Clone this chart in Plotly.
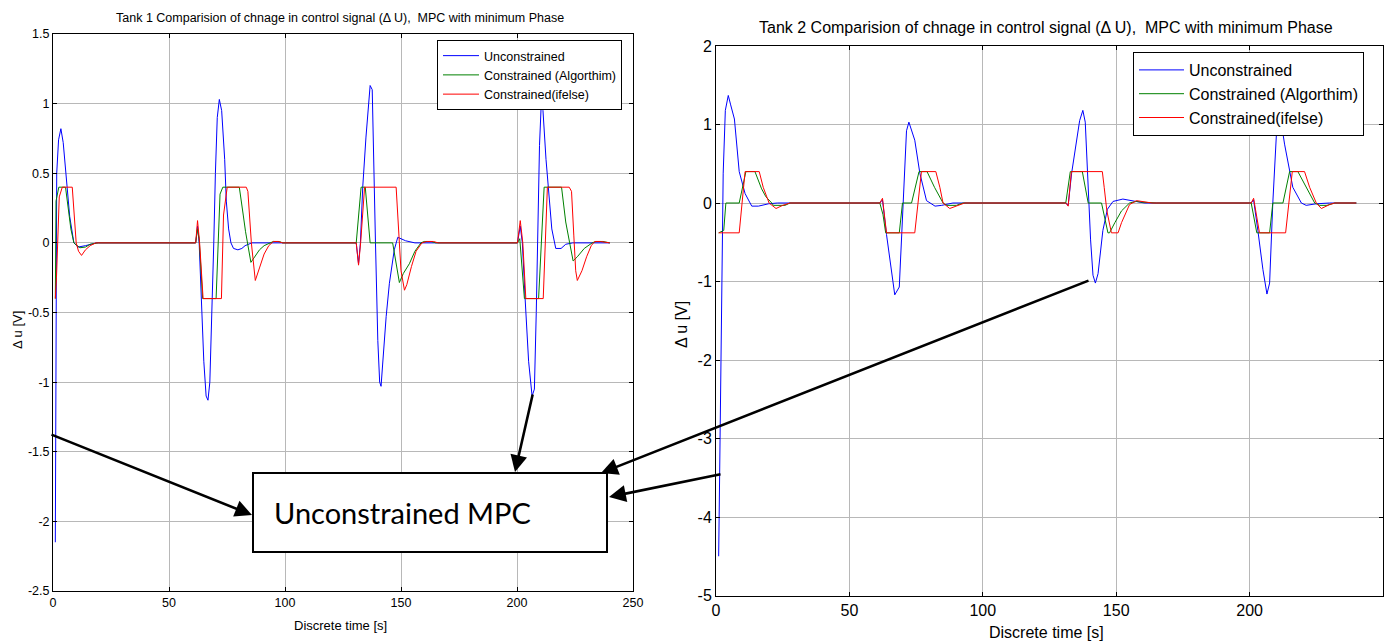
import plotly.graph_objects as go

# ---------------- Tank 1 data (breakpoints) ----------------
t1_unc = [1, 1.6, 2.4, 3.4, 4.4, 5.8, 7.2, 9, 10.8, 14, 18.7,
          61.5, 62.3, 63, 64, 65, 66, 66.8, 67.6, 68.6, 69.3, 70, 70.8, 71.7, 72.7, 74, 74.7, 75.7, 76.7, 77.8, 79.7, 81.4, 82.8, 85.7,
          130.7, 131.7, 132.5, 133.5, 134.9, 136.7, 137.6, 139.0, 140.0, 140.8, 141.4, 142.1, 143.6, 145, 147.1, 148.6, 150, 152, 156,
          200.2, 201.4, 202.3, 203.5, 205, 206.5, 207.5, 208.3, 209, 209.7, 210.5, 211.2, 212.5, 213.6, 215, 216.7, 219, 221, 224, 240]
u1_unc = [-2.15, 0.5, 0.74, 0.82, 0.72, 0.43, 0.19, 0, -0.03, -0.02, 0,
          0, 0.12, 0, -0.45, -0.85, -1.1, -1.13, -1.0, -0.5, 0, 0.5, 0.9, 1.03, 0.95, 0.6, 0.3, 0.1, 0, -0.04, -0.05, -0.04, -0.02, 0,
          0, -0.15, 0, 0.4, 0.76, 1.13, 1.1, 0, -0.7, -1.0, -1.03, -0.87, -0.53, -0.29, -0.05, 0.04, 0.03, 0.015, 0,
          0, 0.12, 0, -0.4, -0.85, -1.1, -1.05, -0.5, 0.2, 0.7, 1.02, 0.95, 0.6, 0.35, 0.1, -0.04, -0.04, -0.01, 0, 0]

t1_alg = [1, 1.3, 2.5, 5.4, 7.7, 9, 11.6, 14, 16, 19.5,
          61.5, 62.3, 63, 64.5, 70.3, 72, 73.2, 80.3, 82, 83, 85.3, 87, 89, 91, 93.5, 95, 97.5, 99,
          130.7, 132.8, 134.6, 136.7, 146.4, 149.3, 151, 153.6, 156, 158.6, 160, 163, 165,
          200.2, 201.2, 203.2, 209.3, 211.7, 219.2, 221, 222.7, 224.2, 226, 229, 232.4, 234, 237, 240]
u1_alg = [-0.4, 0.3, 0.4, 0.4, 0.1, 0, -0.035, -0.03, -0.01, 0,
          0, 0.1, 0.03, -0.4, -0.4, 0.35, 0.4, 0.4, 0.2, 0.08, -0.14, -0.1, -0.05, -0.02, 0, 0.01, 0.01, 0,
          0, 0.4, 0.4, 0, 0, -0.285, -0.22, -0.15, -0.06, 0, 0.01, 0.01, 0,
          0, 0.03, -0.4, -0.4, 0.4, 0.4, 0.15, 0, -0.13, -0.1, -0.04, 0, 0.01, 0.01, 0]

t1_ife = [1, 1.5, 2.7, 4, 8.3, 10, 11, 12.3, 14, 16, 18.5,
          61.5, 62.3, 63.2, 64.7, 72.6, 73.5, 75.1, 83.3, 84, 85.5, 87.2, 89, 91, 93, 95, 97, 99,
          130.7, 131.7, 132.6, 134.3, 147.9, 149, 150, 151.5, 152.5, 154.5, 156.5, 159, 161, 164, 166,
          200.2, 201.4, 202.5, 203.8, 211.3, 213.1, 222.5, 223.5, 224.5, 225.3, 226, 228, 230, 232, 233.5, 236, 240]
u1_ife = [-0.4, -0.25, 0.33, 0.4, 0.4, 0, -0.06, -0.09, -0.05, -0.02, 0,
          0, 0.16, 0, -0.4, -0.4, 0.2, 0.4, 0.4, 0.37, 0, -0.27, -0.18, -0.08, -0.02, 0.01, 0.01, 0,
          0, -0.16, 0, 0.4, 0.4, 0.1, -0.2, -0.34, -0.3, -0.17, -0.06, 0, 0.01, 0.01, 0,
          0, 0.16, 0, -0.4, -0.4, 0.4, 0.4, 0.37, 0.05, -0.2, -0.27, -0.2, -0.1, -0.02, 0.01, 0.01, 0]

# ---------------- Tank 2 data ----------------
t2_unc = [1, 1.75, 2.1, 2.7, 3.5, 4.6, 5.5, 6.9, 8.7, 10.9, 13.4, 15.9, 19.7, 23,
          61.4, 62.4, 63.9, 65.8, 67.0, 68.7, 70.2, 71.4, 72.3, 73.3, 74.5, 76.4, 78.9, 82.1, 84.6, 88.8,
          131.1, 132, 133.3, 136.3, 137.5, 138.4, 139.4, 140.4, 141.3, 142.2, 143.2, 145, 146.7, 148.8, 152.5, 156.9, 160.6,
          200.6, 201.5, 203.1, 205, 206.5, 207.5, 208.7, 210.2, 211.9, 213.1, 216.2, 219.4, 221.2, 225, 230, 240]
u2_unc = [-4.5, -2.0, -1.0, 0.38, 1.18, 1.37, 1.25, 1.07, 0.4, 0.12, -0.04, -0.04, -0.01, 0,
          0, 0.04, -0.4, -0.9, -1.17, -1.07, 0.03, 0.92, 1.03, 0.92, 0.8, 0.38, 0.03, -0.04, -0.03, 0,
          0, -0.03, 0.38, 1.05, 1.18, 1.03, 0.26, -0.47, -0.92, -1.02, -0.9, -0.35, -0.08, 0.02, 0.05, 0.02, 0,
          0, 0.04, -0.35, -0.85, -1.16, -1.02, 0, 0.97, 1.02, 0.75, 0.2, 0, -0.03, -0.01, 0, 0]

t2_alg = [1, 2.9, 3.7, 8.7, 11.2, 14.6, 17.1, 18.7, 20.9, 21.5, 25.9, 27.7,
          61.4, 62.6, 63.6, 68.7, 69.9, 73.3, 76.1, 79.1, 81.9, 85.1, 86.4, 90.1, 92.6,
          131.1, 132.8, 137.3, 139.5, 144.5, 146.9, 147.5, 149.5, 152, 155, 157.6, 160, 165,
          200.6, 202.7, 207.5, 208.7, 212.5, 215, 218.1, 221.2, 224.4, 226.3, 229, 231.9, 240]
u2_alg = [-0.38, -0.35, 0, 0, 0.4, 0.4, 0.18, 0.08, 0, -0.03, -0.03, 0,
          0, -0.15, -0.38, -0.38, 0, 0, 0.4, 0.4, 0.2, 0, -0.03, -0.03, 0,
          0, 0.4, 0.4, 0, 0, -0.38, -0.38, -0.25, -0.1, 0, 0.02, 0.01, 0,
          0, -0.38, -0.38, 0, 0, 0.4, 0.4, 0.2, 0, -0.03, -0.03, 0, 0]

t2_ife = [1, 8.7, 10.9, 16.2, 17.7, 19.9, 22.5, 25, 27.7,
          61.4, 62.4, 63.9, 74.5, 77, 82.4, 83.9, 85.1, 87.6, 90, 93.2,
          131.1, 132, 133.2, 144.8, 145.5, 146.5, 148.2, 150.7, 152, 155, 157.6, 160, 163.5,
          200.6, 201.5, 203.7, 213.5, 216, 220.6, 222.5, 225, 226.9, 230, 231.9, 240]
u2_ife = [-0.38, -0.38, 0.4, 0.4, 0.2, 0, -0.07, -0.03, 0,
          0, 0.06, -0.38, -0.38, 0.4, 0.4, 0.2, 0, -0.07, -0.04, 0,
          0, -0.04, 0.4, 0.4, 0.2, -0.1, -0.38, -0.38, -0.25, -0.02, 0.03, 0.02, 0,
          0, 0.06, -0.38, -0.38, 0.4, 0.4, 0.2, 0, -0.07, -0.02, 0, 0]

series_names = ["Unconstrained", "Constrained (Algorthim)", "Constrained(ifelse)"]
series_colors = ["#0000ff", "#008000", "#ff0000"]

x_ticks = [0, 50, 100, 150, 200, 250]
y1_ticks = [-2.5, -2, -1.5, -1, -0.5, 0, 0.5, 1, 1.5]
y1_labels = ["-2.5", "-2", "-1.5", "-1", "-0.5", "0", "0.5", "1", "1.5"]
y2_ticks = [-5, -4, -3, -2, -1, 0, 1, 2]
y2_labels = ["-5", "-4", "-3", "-2", "-1", "0", "1", "2"]

title1 = "Tank 1 Comparision of chnage in control signal (\u0394 U),  MPC with minimum Phase"
title2 = "Tank 2 Comparision of chnage in control signal (\u0394 U),  MPC with minimum Phase"
xlabel = "Discrete time [s]"
ylabel = "\u0394 u [V]"
box_text = "Unconstrained MPC"

# the page body has an 8px margin, so the figure is made 8px smaller and
# reference pixel positions are shifted by that offset
OFF = 8
W, H = 1395 - OFF, 641 - OFF
def px(x):
    return (x - OFF) / W
def py(y):
    return 1 - (y - OFF) / H

FONT = "Liberation Sans, Arial, sans-serif"

fig = go.Figure()
tank1 = [(t1_unc, u1_unc), (t1_alg, u1_alg), (t1_ife, u1_ife)]
tank2 = [(t2_unc, u2_unc), (t2_alg, u2_alg), (t2_ife, u2_ife)]
for (tt, uu), name, col in zip(tank1, series_names, series_colors):
    fig.add_trace(go.Scatter(x=tt, y=uu, mode="lines", name=name, line=dict(color=col, width=1),
                             xaxis="x", yaxis="y", legend="legend"))
for (tt, uu), name, col in zip(tank2, series_names, series_colors):
    fig.add_trace(go.Scatter(x=tt, y=uu, mode="lines", name=name, line=dict(color=col, width=1),
                             xaxis="x2", yaxis="y2", legend="legend2"))

grid = "#b8b8b8"
common = dict(showline=True, linecolor="black", linewidth=1, mirror="ticks", ticks="inside", ticklen=4,
              tickcolor="black", showgrid=True, gridcolor=grid, gridwidth=1, zeroline=False,
              automargin=False)

f1 = dict(family=FONT, size=12.5, color="black")
f2 = dict(family=FONT, size=16, color="black")

fig.update_layout(
    width=W, height=H, margin=dict(l=0, r=0, t=0, b=0, autoexpand=False),
    paper_bgcolor="white", plot_bgcolor="white",
    xaxis=dict(domain=[px(53), px(633)], range=[0, 250], tickvals=x_ticks, anchor="y", tickfont=f1, **common),
    yaxis=dict(domain=[py(591), py(34)], range=[-2.5, 1.5], tickvals=y1_ticks, ticktext=y1_labels, anchor="x",
               tickfont=f1, **common),
    xaxis2=dict(domain=[px(716), px(1383)], range=[0, 250], tickvals=x_ticks, anchor="y2", tickfont=f2, **common),
    yaxis2=dict(domain=[py(595.5), py(46)], range=[-5, 2], tickvals=y2_ticks, ticktext=y2_labels, anchor="x2",
                tickfont=f2, **common),
    legend=dict(x=px(437), y=py(40), xanchor="left", yanchor="top", bgcolor="white",
                bordercolor="black", borderwidth=1, font=f1, itemwidth=36),
    legend2=dict(x=px(1133), y=py(52), xanchor="left", yanchor="top", bgcolor="white",
                 bordercolor="black", borderwidth=1, font=f2, itemwidth=45),
    showlegend=True,
)

annots = [
    dict(text=title1, x=px(340), y=py(18), font=f1),
    dict(text=title2, x=px(1046), y=py(28), font=f2),
    dict(text=xlabel, x=px(340), y=py(625), font=dict(family=FONT, size=13, color="black")),
    dict(text=xlabel, x=px(1046), y=py(632), font=f2),
    dict(text=ylabel, x=px(17), y=py(330), textangle=-90, font=dict(family=FONT, size=13, color="black")),
    dict(text=ylabel, x=px(681), y=py(325), textangle=-90, font=f2),
    dict(text=box_text, x=px(272), y=py(512), xanchor="left",
         font=dict(family="Lato, Open Sans, sans-serif", size=29, color="black")),
]
for a in annots:
    base = dict(xref="paper", yref="paper", showarrow=False, yanchor="middle")
    base.setdefault("xanchor", "center")
    base.update(a)
    fig.add_annotation(**base)

fig.add_shape(type="rect", xref="paper", yref="paper", x0=px(253), x1=px(607), y0=py(552), y1=py(473),
              line=dict(color="black", width=2), fillcolor="white", layer="above")

# arrows: (head_x, head_y, tail_x, tail_y) in pixels
arrows = [(252, 515, 50, 434), (515, 472, 533, 393), (601, 473, 1090, 280), (609, 497, 722, 474)]
for hx, hy, tx, ty in arrows:
    fig.add_annotation(x=px(hx), y=py(hy), xref="paper", yref="paper", text="", showarrow=True,
                       ax=tx - hx, ay=ty - hy, axref="pixel", ayref="pixel",
                       arrowhead=2, arrowsize=1.3, arrowwidth=2.6, arrowcolor="black")

fig.write_html("out.html")
